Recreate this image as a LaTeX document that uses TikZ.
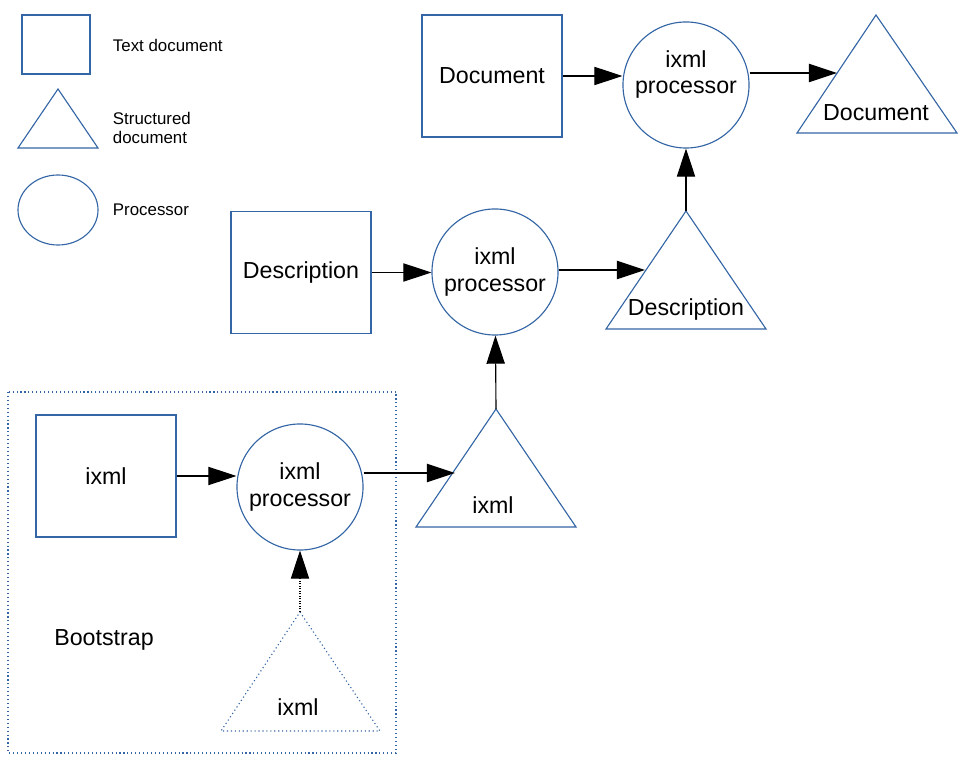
\documentclass[tikz,border=0pt]{standalone}
\usepackage{fontspec}
\setmainfont{Liberation Sans}
\usetikzlibrary{arrows.meta,calc,shapes.geometric}
\definecolor{shapeblue}{HTML}{3465A4}
\begin{document}
\begin{tikzpicture}[
    x=0.025cm, y=-0.025cm,
    every node/.style={align=center, font=\fontsize{16.5}{18.5}\selectfont},
    small text/.style={font=\fontsize{12}{13.5}\selectfont, anchor=west, align=left},
    text box/.style={draw=shapeblue, thick, minimum width=3.5cm, minimum height=3.05cm},
    processor/.style={draw=shapeblue, thick, circle, minimum size=3.15cm, inner sep=0pt},
    tree/.style={draw=shapeblue, thick},
    flow/.style={draw, thick, -{Triangle[length=20pt, width=13pt]}},
    ]
\useasboundingbox (0,0) rectangle (967,766);
% legend
\node[draw=shapeblue, thick, minimum width=1.7cm, minimum height=1.475cm] (legText) at (56,44.5) {};
\node[small text] (legTextLabel) at (108,45) {Text document};
\draw[tree] (58,89) -- (98,148) -- (18,148) -- cycle;
\node[small text] (legTreeLabel) at (108,128) {Structured\\document};
\node[draw=shapeblue, thick, ellipse, minimum width=2cm, minimum height=1.75cm, inner sep=0pt] (legProc) at (58,210) {};
\node[small text] (legProcLabel) at (108,210) {Processor};
% top row
\node[text box] (doc) at (492,76) {Document};
\node[processor, label={[yshift=0.27cm]center:ixml\\processor}] (procDoc) at (686,85) {};
\draw[tree] (876,15) -- (957,133) -- (797,133) -- cycle;
\coordinate (docOutL) at (837,73);
\node (docOut) at (876,113) {Document};
% middle row
\node[text box] (desc) at (301,272.5) {Description};
\node[processor] (procDesc) at (495,272) {ixml\\processor};
\draw[tree] (686,211) -- (766,329) -- (606,329) -- cycle;
\coordinate (descTop) at (686,211);
\coordinate (descOutL) at (645,270);
\node (descOut) at (686,310) {Description};
% bootstrap
\draw[shapeblue, thick, dotted] (8,392) rectangle (396,753);
\node (bootstrap) at (104,640) {Bootstrap};
\node[text box] (ixml) at (106,476) {ixml};
\node[processor] (procIxml) at (300,487) {ixml\\processor};
\draw[tree] (496,409) -- (576,527) -- (416,527) -- cycle;
\coordinate (ixmlTop) at (496,409);
\coordinate (ixmlOutL) at (455,473);
\node (ixmlOut) at (493,505) {ixml};
\draw[tree, dotted] (300,612) -- (380,731) -- (221,731) -- cycle;
\coordinate (bootTop) at (300,612);
\node (bootOut) at (298,707) {ixml};
% connectors
\draw[flow] (doc.east) -- (doc.east -| procDoc.west);
\draw[flow] (procDoc.east |- docOutL) -- (docOutL);
\draw[flow] (descTop) -- (procDoc);
\draw[flow] (desc.east) -- (desc.east -| procDesc.west);
\draw[flow] (procDesc.east |- descOutL) -- (descOutL);
\draw[flow] (ixmlTop) -- (procDesc);
\draw[flow] (ixml.east) -- (ixml.east -| procIxml.west);
\draw[flow] (procIxml.east |- ixmlOutL) -- (ixmlOutL);
\draw[flow, densely dotted] (bootTop) -- (procIxml);
\end{tikzpicture}
\end{document}
